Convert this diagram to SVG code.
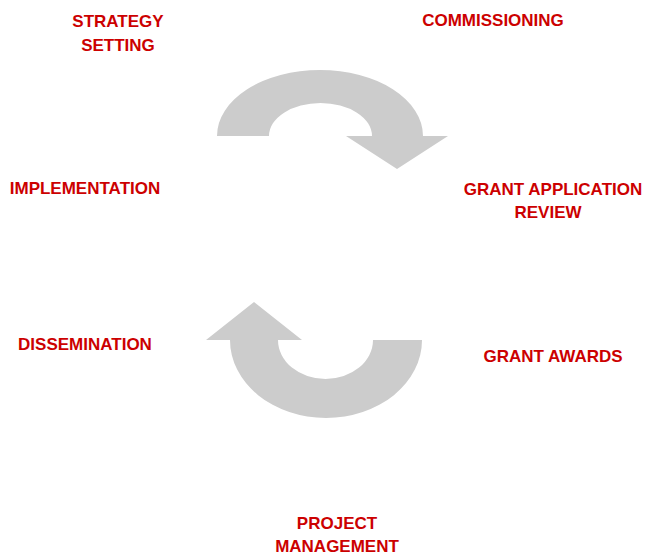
<svg xmlns="http://www.w3.org/2000/svg" width="645" height="555" viewBox="0 0 645 555">
  <style>
    .label { font-family: "Liberation Sans", Arial, sans-serif; font-weight: bold; font-size: 17px; fill: #cc0000; text-anchor: middle; }
    .cycle { fill: #cccccc; stroke: none; }
  </style>
  <rect width="645" height="555" fill="#ffffff"/>

  <!-- curved cycle arrows -->
  <g id="connectors">
    <path class="cycle" d="M217,136 A103,66 0 0 1 423,136 L448,136 L397,169 L346,136 L372,136 A51.5,33 0 0 0 269,136 Z"/>
    <path class="cycle" d="M422,340 A96,78 0 0 1 230,340 L206,340 L254,302 L302,340 L278,340 A47.5,39 0 0 0 373,340 Z"/>
  </g>

  <!-- stage labels -->
  <g id="strategy-setting">
    <text class="label" x="118" y="27">STRATEGY</text>
    <text class="label" x="118" y="51">SETTING</text>
  </g>
  <g id="commissioning">
    <text class="label" x="493" y="26">COMMISSIONING</text>
  </g>
  <g id="implementation">
    <text class="label" x="85" y="194">IMPLEMENTATION</text>
  </g>
  <g id="grant-application-review">
    <text class="label" x="553" y="195">GRANT APPLICATION</text>
    <text class="label" x="548" y="218">REVIEW</text>
  </g>
  <g id="dissemination">
    <text class="label" x="85" y="350">DISSEMINATION</text>
  </g>
  <g id="grant-awards">
    <text class="label" x="553" y="362">GRANT AWARDS</text>
  </g>
  <g id="project-management">
    <text class="label" x="337" y="529">PROJECT</text>
    <text class="label" x="337" y="552">MANAGEMENT</text>
  </g>
</svg>
